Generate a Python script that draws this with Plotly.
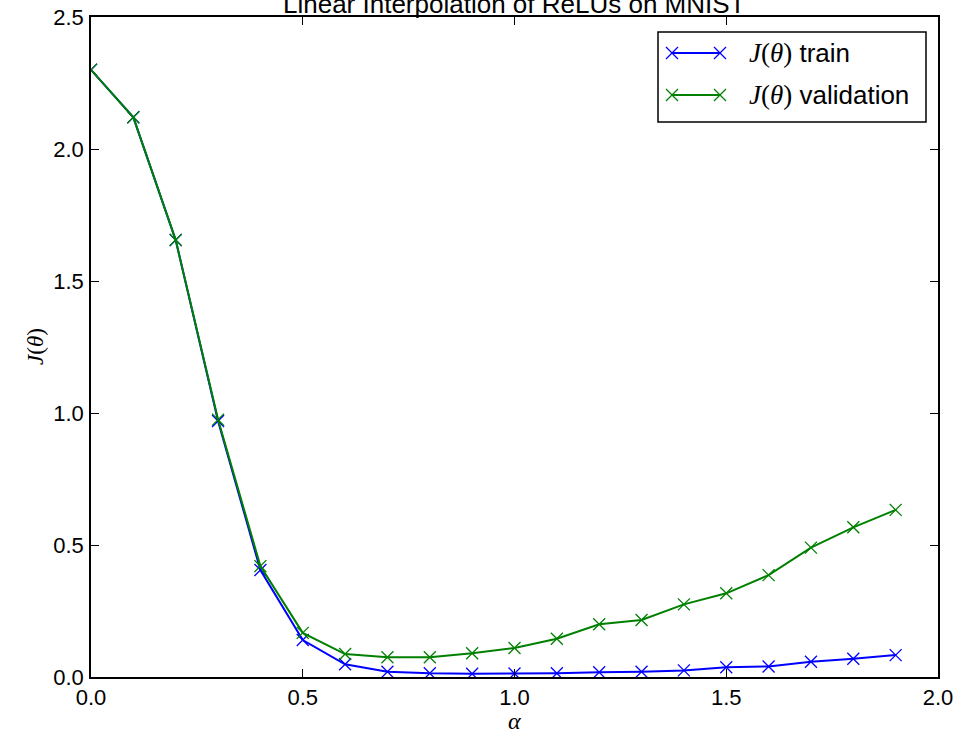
import plotly.graph_objects as go

# Interpolation coefficient and loss values
alpha = [0.0, 0.1, 0.2, 0.3, 0.4, 0.5, 0.6, 0.7, 0.8, 0.9,
         1.0, 1.1, 1.2, 1.3, 1.4, 1.5, 1.6, 1.7, 1.8, 1.9]
loss_train = [2.30, 2.12, 1.655, 0.97, 0.405, 0.14, 0.048, 0.02, 0.014, 0.012,
              0.013, 0.014, 0.018, 0.02, 0.025, 0.037, 0.04, 0.058, 0.069, 0.083]
loss_valid = [2.30, 2.12, 1.655, 0.975, 0.42, 0.167, 0.087, 0.075, 0.075, 0.09,
              0.11, 0.145, 0.20, 0.216, 0.275, 0.317, 0.386, 0.49, 0.567, 0.633]

x_ticks = [0.0, 0.5, 1.0, 1.5, 2.0]
y_ticks = [0.0, 0.5, 1.0, 1.5, 2.0, 2.5]

BLUE = "#0000ff"
GREEN = "#008000"
SANS = "Liberation Sans, Arial, sans-serif"
SERIF = "Liberation Serif, Times New Roman, serif"

W, H = 957, 733
L, R, T, B = 91, 19, 17, 56


def px_x(p):
    return (p - L) / (W - L - R)


def px_y(p):
    return (H - B - p) / (H - T - B)


fig = go.Figure()

for vals, col in [(loss_train, BLUE), (loss_valid, GREEN)]:
    fig.add_trace(go.Scatter(x=alpha, y=vals, mode="lines+markers",
                             line=dict(color=col, width=2),
                             marker=dict(symbol="x-thin", size=12, color=col,
                                         line=dict(width=1.3, color=col)),
                             showlegend=False))

# Legend keys on an overlay axis in plot-fraction units
key_x = [px_x(672), px_x(720)]
for yy, col in [(px_y(53), BLUE), (px_y(95), GREEN)]:
    fig.add_trace(go.Scatter(x=key_x, y=[yy, yy], mode="lines+markers",
                             line=dict(color=col, width=2),
                             marker=dict(symbol="x-thin", size=12, color=col,
                                         line=dict(width=1.3, color=col)),
                             xaxis="x2", yaxis="y2", showlegend=False,
                             hoverinfo="skip"))

math_j = f'<span style="font-family:{SERIF}; font-size:27px"><i>J</i>(<i>θ</i>)</span>'
for yy, label in [(px_y(53), "train"), (px_y(95), "validation")]:
    fig.add_annotation(x=px_x(747), y=yy, xref="paper", yref="paper",
                       xanchor="left", yanchor="middle", showarrow=False,
                       text=f"{math_j} {label}",
                       font=dict(family=SANS, size=26, color="black"))

# Legend frame
fig.add_shape(type="rect", xref="paper", yref="paper",
              x0=px_x(658), x1=px_x(926), y0=px_y(122), y1=px_y(32),
              line=dict(color="black", width=1.5), fillcolor="white", layer="below")

# Title
fig.add_annotation(x=0.5, y=1, xref="paper", yref="paper", xanchor="center",
                   yanchor="bottom", yshift=-4, showarrow=False,
                   text="Linear Interpolation of ReLUs on MNIST",
                   font=dict(family=SANS, size=26, color="black"))

# X-axis label
fig.add_annotation(x=0.5, y=px_y(721), xref="paper", yref="paper",
                   xanchor="center", yanchor="middle", showarrow=False,
                   text="<i>α</i>",
                   font=dict(family=SERIF, size=24, color="black"))

# Y-axis label
fig.add_annotation(x=px_x(35), y=0.5, xref="paper", yref="paper",
                   xanchor="center", yanchor="middle", showarrow=False,
                   textangle=-90, text="<i>J</i>(<i>θ</i>)",
                   font=dict(family=SERIF, size=23, color="black"))

axis_common = dict(showline=True, linecolor="black", linewidth=1.5, mirror="allticks",
                   ticks="inside", ticklen=8, tickwidth=1, tickcolor="black",
                   showgrid=False, zeroline=False, automargin=False,
                   tickfont=dict(family=SANS, size=22, color="black"))

fig.update_layout(
    width=W, height=H,
    margin=dict(l=L, r=R, t=T, b=B),
    plot_bgcolor="white", paper_bgcolor="white",
    xaxis=dict(axis_common, range=[0, 2.0], tickvals=x_ticks, ticklabelstandoff=0,
               ticktext=[f"{v:.1f}" for v in x_ticks]),
    yaxis=dict(axis_common, range=[0, 2.5], tickvals=y_ticks, ticklabelstandoff=1,
               ticktext=[f"{v:.1f}" for v in y_ticks]),
    xaxis2=dict(overlaying="x", range=[0, 1], visible=False, fixedrange=True),
    yaxis2=dict(overlaying="y", range=[0, 1], visible=False, fixedrange=True),
)

fig.write_html("out.html")
